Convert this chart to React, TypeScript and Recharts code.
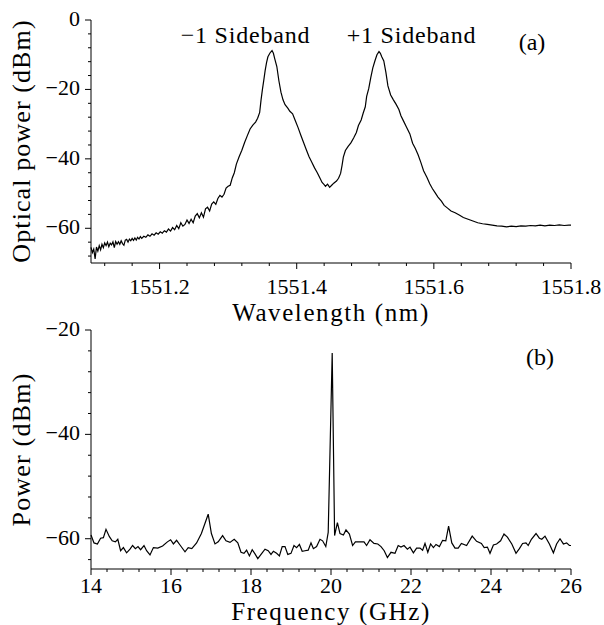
import React from 'react';
import { LineChart, Line, XAxis, YAxis } from 'recharts';

const FONT = "'Liberation Serif', 'Times New Roman', 'DejaVu Serif', serif";
const fontStyle = { fontFamily: FONT };

// ---------- Panel (a): optical spectrum ----------
const wavelengthNm = [
  1551.100, 1551.102, 1551.104, 1551.106, 1551.108, 1551.110, 1551.112, 1551.114, 1551.116, 1551.118,
  1551.120, 1551.122, 1551.124, 1551.126, 1551.128, 1551.130, 1551.132, 1551.134, 1551.136, 1551.138,
  1551.140, 1551.142, 1551.144, 1551.146, 1551.148, 1551.150, 1551.152, 1551.154, 1551.156, 1551.158,
  1551.160, 1551.162, 1551.164, 1551.166, 1551.168, 1551.170, 1551.172, 1551.174, 1551.177, 1551.180,
  1551.183, 1551.186, 1551.189, 1551.192, 1551.195, 1551.198, 1551.201, 1551.204, 1551.207, 1551.210,
  1551.213, 1551.216, 1551.219, 1551.222, 1551.225, 1551.228, 1551.231, 1551.234, 1551.237, 1551.240,
  1551.243, 1551.246, 1551.249, 1551.252, 1551.255, 1551.258, 1551.261, 1551.264, 1551.267, 1551.270,
  1551.273, 1551.276, 1551.279, 1551.282, 1551.285, 1551.288, 1551.291, 1551.294, 1551.297, 1551.300,
  1551.303, 1551.306, 1551.309, 1551.312, 1551.316, 1551.320, 1551.324, 1551.328, 1551.332, 1551.336,
  1551.340, 1551.343, 1551.346, 1551.348, 1551.350, 1551.352, 1551.354, 1551.356, 1551.358, 1551.361,
  1551.364, 1551.366, 1551.368, 1551.371, 1551.374, 1551.377, 1551.380, 1551.383, 1551.387, 1551.390,
  1551.394, 1551.398, 1551.402, 1551.406, 1551.410, 1551.414, 1551.418, 1551.422, 1551.426, 1551.430,
  1551.434, 1551.437, 1551.440, 1551.442, 1551.445, 1551.448, 1551.451, 1551.454, 1551.458, 1551.461,
  1551.464, 1551.466, 1551.468, 1551.471, 1551.475, 1551.479, 1551.483, 1551.487, 1551.490, 1551.494,
  1551.497, 1551.500, 1551.502, 1551.505, 1551.508, 1551.511, 1551.514, 1551.517, 1551.520, 1551.522,
  1551.524, 1551.527, 1551.530, 1551.533, 1551.537, 1551.541, 1551.545, 1551.549, 1551.552, 1551.556,
  1551.560, 1551.565, 1551.569, 1551.573, 1551.577, 1551.581, 1551.585, 1551.590, 1551.594, 1551.598,
  1551.602, 1551.606, 1551.611, 1551.615, 1551.620, 1551.625, 1551.631, 1551.637, 1551.643, 1551.650,
  1551.657, 1551.664, 1551.671, 1551.678, 1551.685, 1551.692, 1551.699, 1551.706, 1551.713, 1551.720,
  1551.727, 1551.734, 1551.741, 1551.748, 1551.755, 1551.762, 1551.769, 1551.776, 1551.783, 1551.790,
  1551.797, 1551.800,
];
const opticalPowerDbm = [
  -65.5, -67.0, -66.0, -68.8, -65.4, -66.6, -65.0, -66.2, -64.6, -65.6,
  -64.2, -65.0, -64.0, -65.3, -64.3, -64.8, -63.9, -65.6, -63.8, -64.6,
  -63.9, -64.6, -63.6, -64.4, -64.9, -63.4, -63.2, -64.0, -63.1, -63.6,
  -62.9, -63.5, -62.8, -63.4, -62.6, -63.1, -62.4, -62.9, -62.3, -62.6,
  -61.9, -62.3, -61.6, -62.0, -61.3, -61.7, -61.0, -61.4, -60.7, -61.1,
  -60.2, -60.8, -59.8, -60.4, -59.2, -60.1, -58.4, -59.4, -58.9, -57.6,
  -58.6, -57.4, -58.4, -56.5, -55.8, -57.0, -55.5, -56.8, -54.4, -53.9,
  -55.0, -53.0, -52.4, -53.1, -51.4, -50.5, -51.0, -50.2, -48.4, -47.9,
  -47.6, -45.5, -44.0, -41.5, -39.4, -37.5, -35.3, -33.3, -31.4, -30.3,
  -29.4, -28.3, -26.6, -23.0, -20.0, -17.3, -14.5, -12.3, -10.6, -9.5,
  -8.8, -9.6, -11.2, -13.4, -17.5, -20.8, -23.0, -24.4, -25.4, -26.3,
  -27.0, -29.0, -31.0, -33.2, -35.3, -37.4, -39.4, -41.0, -42.6, -44.0,
  -45.6, -46.8, -47.4, -47.9, -47.3, -48.2, -47.6, -47.0, -46.4, -45.6,
  -44.2, -42.0, -39.5, -37.6, -36.4, -35.4, -34.0, -32.4, -30.4, -28.8,
  -26.8, -25.0, -22.0, -19.8, -16.6, -13.8, -11.8, -10.0, -9.1, -9.6,
  -10.6, -11.8, -15.0, -19.0, -21.6, -23.0, -24.3, -25.8, -27.6, -29.2,
  -30.8, -32.8, -35.5, -37.0, -38.8, -41.0, -43.4, -45.4, -47.2, -48.6,
  -49.8, -51.0, -52.2, -53.4, -54.2, -55.0, -55.5, -56.2, -56.9, -57.4,
  -57.9, -58.4, -58.7, -58.9, -59.1, -59.3, -59.4, -59.6, -59.4, -59.5,
  -59.3, -59.4, -59.2, -59.3, -59.1, -59.3, -59.1, -59.2, -59.0, -59.2,
  -59.1, -59.1,
];
const wavelengthLabels = [1551.2, 1551.4, 1551.6, 1551.8];
const wavelengthTicks = [
  1551.12, 1551.16, 1551.2, 1551.24, 1551.28, 1551.32, 1551.36, 1551.4, 1551.44,
  1551.48, 1551.52, 1551.56, 1551.6, 1551.64, 1551.68, 1551.72, 1551.76, 1551.8,
];
const opticalLabels = [0, -20, -40, -60];
const opticalTicks = [0, -4, -8, -12, -16, -20, -24, -28, -32, -36, -40, -44, -48, -52, -56, -60, -64, -68];

// ---------- Panel (b): RF spectrum ----------
const frequencyGHz = [
  14.0, 14.075, 14.16, 14.24, 14.31, 14.375, 14.46, 14.53, 14.61, 14.67,
  14.74, 14.81, 14.89, 14.975, 15.04, 15.11, 15.175, 15.24, 15.325, 15.39,
  15.475, 15.56, 15.67, 15.79, 15.91, 15.99, 16.06, 16.14, 16.225, 16.35,
  16.43, 16.52, 16.64, 16.76, 16.93, 17.01, 17.1, 17.18, 17.29, 17.375,
  17.475, 17.58, 17.67, 17.75, 17.825, 17.89, 17.96, 18.03, 18.1, 18.17,
  18.27, 18.35, 18.43, 18.5, 18.56, 18.64, 18.71, 18.78, 18.85, 18.92,
  19.0, 19.075, 19.14, 19.21, 19.28, 19.35, 19.43, 19.5, 19.56, 19.64,
  19.725, 19.79, 19.87, 19.93, 20.03, 20.09, 20.16, 20.225, 20.31, 20.375,
  20.46, 20.54, 20.61, 20.71, 20.825, 20.89, 20.975, 21.075, 21.17, 21.25,
  21.33, 21.41, 21.5, 21.6, 21.68, 21.75, 21.825, 21.91, 21.975, 22.06,
  22.14, 22.225, 22.29, 22.35, 22.42, 22.49, 22.56, 22.625, 22.71, 22.79,
  22.87, 22.94, 23.02, 23.1, 23.18, 23.26, 23.39, 23.53, 23.64, 23.76,
  23.83, 23.91, 23.975, 24.06, 24.14, 24.24, 24.325, 24.41, 24.52, 24.625,
  24.71, 24.79, 24.875, 24.93, 25.01, 25.125, 25.21, 25.27, 25.35, 25.46,
  25.56, 25.64, 25.725, 25.81, 25.89, 25.96, 26.0,
];
const rfPowerDbm = [
  -59.3, -60.8, -61.0, -59.9, -59.8, -58.2, -59.6, -60.4, -60.6, -60.1,
  -62.3, -61.7, -62.7, -62.0, -61.3, -61.9, -61.5, -62.1, -61.3, -62.3,
  -63.1, -61.7, -61.8, -61.4, -60.6, -60.2, -61.0, -60.3, -61.2, -62.5,
  -61.7, -61.9, -60.8, -59.0, -55.3, -59.0, -61.0, -60.6, -59.4, -60.4,
  -60.7, -60.1, -60.8, -62.6, -62.8, -62.2, -63.3, -62.1, -62.9, -63.8,
  -62.8, -62.0, -62.3, -63.0, -62.4, -62.8, -63.3, -61.5, -61.5, -63.0,
  -62.8, -61.3, -61.7, -61.1, -62.4, -62.3, -62.2, -60.8, -61.9, -61.5,
  -60.1, -60.4, -61.5, -58.8, -24.4, -59.4, -56.9, -59.0, -59.3, -58.3,
  -59.1, -61.3, -60.6, -60.6, -60.6, -61.3, -60.2, -60.9, -61.0, -61.5,
  -62.3, -63.6, -62.6, -62.8, -61.3, -61.6, -61.3, -62.0, -61.6, -62.7,
  -61.8, -61.8, -62.2, -60.9, -62.6, -61.0, -61.7, -61.1, -61.5, -60.3,
  -60.4, -57.6, -60.8, -61.8, -61.8, -60.9, -61.3, -59.5, -60.5, -60.9,
  -61.7, -61.6, -62.8, -61.2, -61.0, -60.4, -59.1, -59.7, -61.0, -62.8,
  -61.9, -60.9, -60.8, -61.3, -60.1, -59.0, -59.9, -60.1, -59.5, -61.0,
  -62.7, -61.0, -60.0, -61.0, -60.8, -61.3, -61.3,
];
const freqLabels = [14, 16, 18, 20, 22, 24, 26];
const freqTicks = [
  14, 14.4, 14.8, 15.2, 15.6, 16, 16.4, 16.8, 17.2, 17.6, 18, 18.4, 18.8, 19.2, 19.6, 20,
  20.4, 20.8, 21.2, 21.6, 22, 22.4, 22.8, 23.2, 23.6, 24, 24.4, 24.8, 25.2, 25.6, 26,
];
const rfLabels = [-20, -40, -60];
const rfTicks = [-20, -24, -28, -32, -36, -40, -44, -48, -52, -56, -60, -64];

const dataA = wavelengthNm.map((x, i) => ({ x, y: opticalPowerDbm[i] }));
const dataB = frequencyGHz.map((x, i) => ({ x, y: rfPowerDbm[i] }));

const isIn = (v: number, arr: number[]) => arr.some((a) => Math.abs(a - v) < 1e-6);
const fmt = (v: number) => (v < 0 ? '\u2212' + String(Math.abs(v)) : String(v));

function makeTick(side: 'bottom' | 'top' | 'left' | 'right', labels: number[], labelOffset = 0) {
  return (props: any) => {
    const { x, y, payload } = props;
    const v = payload.value as number;
    const major = isIn(v, labels);
    const len = major ? 6 : 3;
    let line;
    if (side === 'bottom') line = <line x1={x} y1={y} x2={x} y2={y + len} stroke="#000" strokeWidth={1} />;
    else if (side === 'top') line = <line x1={x} y1={y} x2={x} y2={y - len} stroke="#000" strokeWidth={1} />;
    else if (side === 'left') line = <line x1={x} y1={y} x2={x - len} y2={y} stroke="#000" strokeWidth={1} />;
    else line = <line x1={x} y1={y} x2={x + len} y2={y} stroke="#000" strokeWidth={1} />;
    let label = null;
    if (major && side === 'bottom') {
      label = (
        <text x={x} y={y + labelOffset} textAnchor="middle" style={fontStyle} fontSize={22} fill="#000">
          {fmt(v)}
        </text>
      );
    } else if (major && side === 'left') {
      label = (
        <text x={x - 11} y={y + 6} textAnchor="end" style={fontStyle} fontSize={22} fill="#000">
          {fmt(v)}
        </text>
      );
    }
    return (
      <g>
        {line}
        {label}
      </g>
    );
  };
}

const axisLine = { stroke: '#000', strokeWidth: 1 };

export default function App() {
  return (
    <div style={{ position: 'absolute', left: 0, top: 0, width: 604, height: 625, background: '#fff', fontFamily: FONT }}>
      <div style={{ position: 'absolute', left: 0, top: 0 }}>
        <LineChart width={604} height={310} data={dataA} margin={{ top: 20, right: 33, left: 0, bottom: 0 }}>
          <XAxis
            xAxisId="b"
            dataKey="x"
            type="number"
            domain={[1551.1, 1551.8]}
            ticks={wavelengthTicks}
            interval={0}
            tickSize={0}
            tickMargin={0}
            height={47}
            axisLine={axisLine}
            tickLine={false}
            tick={makeTick('bottom', wavelengthLabels, 31)}
          />
          <XAxis
            xAxisId="t"
            orientation="top"
            dataKey="x"
            type="number"
            domain={[1551.1, 1551.8]}
            ticks={wavelengthTicks}
            interval={0}
            tickSize={0}
            tickMargin={0}
            height={0}
            axisLine={axisLine}
            tickLine={false}
            tick={makeTick('top', wavelengthLabels)}
          />
          <YAxis
            yAxisId="l"
            type="number"
            domain={[-70, 0]}
            ticks={opticalTicks}
            interval={0}
            tickSize={0}
            tickMargin={0}
            width={91}
            axisLine={axisLine}
            tickLine={false}
            tick={makeTick('left', opticalLabels)}
          />
          <YAxis
            yAxisId="r"
            orientation="right"
            type="number"
            domain={[-70, 0]}
            ticks={opticalTicks}
            interval={0}
            tickSize={0}
            tickMargin={0}
            width={0}
            axisLine={axisLine}
            tickLine={false}
            tick={makeTick('right', opticalLabels)}
          />
          <Line
            xAxisId="b"
            yAxisId="l"
            type="linear"
            dataKey="y"
            stroke="#000"
            strokeWidth={1.2}
            dot={false}
            isAnimationActive={false}
          />
        </LineChart>
      </div>
      <div style={{ position: 'absolute', left: 0, top: 310 }}>
        <LineChart width={604} height={315} data={dataB} margin={{ top: 20, right: 33, left: 0, bottom: 0 }}>
          <XAxis
            xAxisId="b"
            dataKey="x"
            type="number"
            domain={[14, 26]}
            ticks={freqTicks}
            interval={0}
            tickSize={0}
            tickMargin={0}
            height={56}
            axisLine={axisLine}
            tickLine={false}
            tick={makeTick('bottom', freqLabels, 24)}
          />
          <XAxis
            xAxisId="t"
            orientation="top"
            dataKey="x"
            type="number"
            domain={[14, 26]}
            ticks={freqTicks}
            interval={0}
            tickSize={0}
            tickMargin={0}
            height={0}
            axisLine={axisLine}
            tickLine={false}
            tick={makeTick('top', freqLabels)}
          />
          <YAxis
            yAxisId="l"
            type="number"
            domain={[-65.8, -20]}
            ticks={rfTicks}
            interval={0}
            tickSize={0}
            tickMargin={0}
            width={91}
            axisLine={axisLine}
            tickLine={false}
            tick={makeTick('left', rfLabels)}
          />
          <YAxis
            yAxisId="r"
            orientation="right"
            type="number"
            domain={[-65.8, -20]}
            ticks={rfTicks}
            interval={0}
            tickSize={0}
            tickMargin={0}
            width={0}
            axisLine={axisLine}
            tickLine={false}
            tick={makeTick('right', rfLabels)}
          />
          <Line
            xAxisId="b"
            yAxisId="l"
            type="linear"
            dataKey="y"
            stroke="#000"
            strokeWidth={1.2}
            dot={false}
            isAnimationActive={false}
          />
        </LineChart>
      </div>
      <svg
        width={604}
        height={625}
        style={{ position: 'absolute', left: 0, top: 0, pointerEvents: 'none', fontFamily: FONT }}
      >
        <text x={30} y={141} transform="rotate(-90 30 141)" textAnchor="middle" style={fontStyle} fontSize={26} letterSpacing={1.1} fill="#000">
          Optical power (dBm)
        </text>
        <text x={331} y={321} textAnchor="middle" style={fontStyle} fontSize={25} letterSpacing={1.6} fill="#000">
          Wavelength (nm)
        </text>
        <text x={245.5} y={43} textAnchor="middle" style={fontStyle} fontSize={24} letterSpacing={0.8} fill="#000">
          {'\u22121 Sideband'}
        </text>
        <text x={411.5} y={43} textAnchor="middle" style={fontStyle} fontSize={24} letterSpacing={0.8} fill="#000">
          +1 Sideband
        </text>
        <text x={532} y={50} textAnchor="middle" style={fontStyle} fontSize={24} fill="#000">
          (a)
        </text>
        <text x={30} y={449.5} transform="rotate(-90 30 449.5)" textAnchor="middle" style={fontStyle} fontSize={26} letterSpacing={1.2} fill="#000">
          Power (dBm)
        </text>
        <text x={331} y={620} textAnchor="middle" style={fontStyle} fontSize={25} letterSpacing={1.6} fill="#000">
          Frequency (GHz)
        </text>
        <text x={540} y={365} textAnchor="middle" style={fontStyle} fontSize={24} fill="#000">
          (b)
        </text>
      </svg>
    </div>
  );
}
